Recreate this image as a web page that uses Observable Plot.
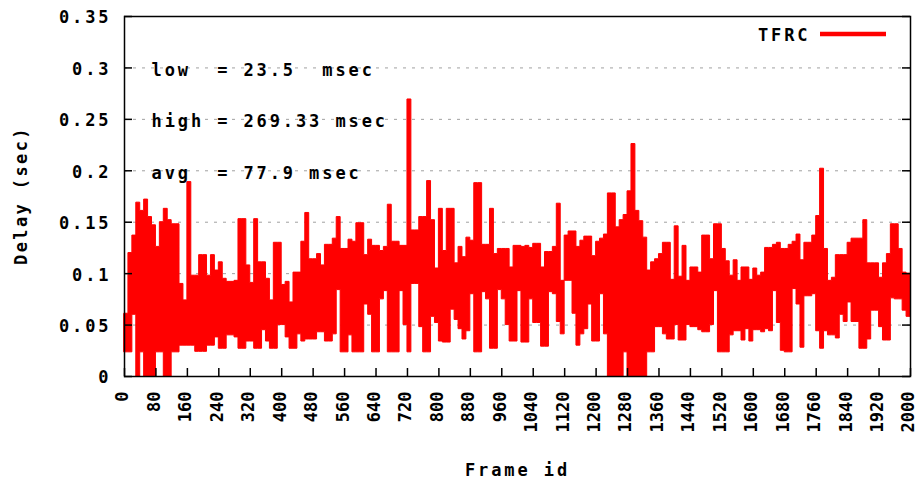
<!DOCTYPE html>
<html>
<head>
<meta charset="utf-8">
<script src="https://cdn.jsdelivr.net/npm/d3@7"></script>
<script src="https://cdn.jsdelivr.net/npm/@observablehq/plot@0.6"></script>
<style>
  html, body { margin: 0; padding: 0; background: #fff; }
  #chart svg text { font-family: "DejaVu Sans Mono", monospace; font-weight: bold; letter-spacing: 2.9px; white-space: pre; }
  #chart svg g[aria-label="x-axis tick label"] text { letter-spacing: 0; }
</style>
</head>
<body>
<div id="chart"></div>
<script>
// Per-frame delay of the TFRC stream, summarised in bins of 10 frames:
// the highest and lowest delay (seconds) reached inside each bin.
const binFrames = 10;
const delayHigh = [
  0.061, 0.12, 0.137, 0.169, 0.161, 0.172, 0.155, 0.147, 0.126, 0.15,
  0.163, 0.152, 0.148, 0.148, 0.09, 0.074, 0.189, 0.098, 0.098, 0.118,
  0.118, 0.098, 0.118, 0.103, 0.111, 0.095, 0.092, 0.092, 0.093, 0.153,
  0.153, 0.108, 0.091, 0.153, 0.111, 0.111, 0.095, 0.074, 0.13, 0.13,
  0.089, 0.092, 0.072, 0.101, 0.101, 0.131, 0.159, 0.114, 0.114, 0.119,
  0.108, 0.128, 0.128, 0.134, 0.155, 0.124, 0.124, 0.133, 0.131, 0.149,
  0.149, 0.118, 0.133, 0.127, 0.127, 0.122, 0.126, 0.167, 0.131, 0.131,
  0.127, 0.127, 0.26933, 0.142, 0.142, 0.155, 0.155, 0.19, 0.152, 0.105,
  0.163, 0.122, 0.163, 0.163, 0.11, 0.126, 0.116, 0.135, 0.132, 0.188,
  0.188, 0.128, 0.128, 0.163, 0.119, 0.124, 0.124, 0.124, 0.106, 0.127,
  0.127, 0.126, 0.127, 0.125, 0.129, 0.129, 0.106, 0.121, 0.121, 0.126,
  0.168, 0.093, 0.137, 0.141, 0.141, 0.126, 0.132, 0.136, 0.136, 0.117,
  0.131, 0.134, 0.138, 0.178, 0.178, 0.145, 0.152, 0.157, 0.18, 0.226,
  0.161, 0.151, 0.135, 0.103, 0.111, 0.114, 0.119, 0.13, 0.13, 0.094,
  0.146, 0.097, 0.127, 0.093, 0.106, 0.106, 0.101, 0.137, 0.137, 0.114,
  0.148, 0.148, 0.124, 0.112, 0.098, 0.113, 0.093, 0.106, 0.106, 0.094,
  0.105, 0.098, 0.101, 0.125, 0.125, 0.128, 0.13, 0.124, 0.124, 0.128,
  0.131, 0.138, 0.113, 0.13, 0.13, 0.137, 0.156, 0.202, 0.124, 0.093,
  0.096, 0.118, 0.118, 0.118, 0.13, 0.134, 0.134, 0.134, 0.152, 0.11,
  0.11, 0.11, 0.096, 0.11, 0.119, 0.148, 0.148, 0.124, 0.101, 0.1
];
const delayLow = [
  0.0235, 0.0235, 0.06, 0, 0.0235, 0, 0, 0, 0.0235, 0.0235,
  0, 0, 0.0235, 0.0235, 0.03, 0.03, 0.03, 0.03, 0.024, 0.024,
  0.024, 0.03, 0.03, 0.038, 0.027, 0.027, 0.04, 0.04, 0.038, 0.027,
  0.027, 0.034, 0.034, 0.027, 0.027, 0.045, 0.034, 0.027, 0.027, 0.05,
  0.05, 0.038, 0.027, 0.027, 0.041, 0.034, 0.036, 0.036, 0.036, 0.043,
  0.043, 0.034, 0.034, 0.041, 0.084, 0.0235, 0.0235, 0.04, 0.0235, 0.0235,
  0.0235, 0.07, 0.06, 0.0235, 0.0235, 0.075, 0.083, 0.0235, 0.0235, 0.0235,
  0.083, 0.05, 0.0235, 0.09, 0.09, 0.048, 0.0235, 0.0235, 0.058, 0.052,
  0.034, 0.033, 0.033, 0.065, 0.055, 0.046, 0.036, 0.044, 0.08, 0.0235,
  0.0235, 0.082, 0.075, 0.027, 0.027, 0.084, 0.075, 0.05, 0.034, 0.034,
  0.083, 0.033, 0.033, 0.075, 0.052, 0.052, 0.029, 0.029, 0.082, 0.08,
  0.053, 0.041, 0.093, 0.093, 0.061, 0.03, 0.041, 0.046, 0.07, 0.034,
  0.034, 0.08, 0.041, 0, 0, 0, 0, 0.0235, 0, 0,
  0, 0, 0, 0.0235, 0.0235, 0.048, 0.048, 0.041, 0.036, 0.036,
  0.05, 0.035, 0.035, 0.05, 0.048, 0.048, 0.045, 0.043, 0.043, 0.05,
  0.083, 0.0235, 0.0235, 0.0235, 0.04, 0.044, 0.044, 0.035, 0.046, 0.034,
  0.045, 0.045, 0.043, 0.046, 0.044, 0.083, 0.052, 0.025, 0.0235, 0.0235,
  0.085, 0.07, 0.028, 0.078, 0.078, 0.08, 0.044, 0.027, 0.044, 0.04,
  0.04, 0.037, 0.06, 0.053, 0.072, 0.053, 0.053, 0.027, 0.027, 0.036,
  0.064, 0.064, 0.048, 0.035, 0.035, 0.076, 0.075, 0.075, 0.064, 0.058
];

const seriesName = "TFRC";
const statLabels = ["low  = 23.5  msec", "high = 269.33 msec", "avg  = 77.9 msec"];
const statRows = [0.3, 0.25, 0.2];
const yTicks = [0, 0.05, 0.1, 0.15, 0.2, 0.25, 0.3, 0.35];
const xTicks = [0, 80, 160, 240, 320, 400, 480, 560, 640, 720, 800, 880, 960, 1040,
                1120, 1200, 1280, 1360, 1440, 1520, 1600, 1680, 1760, 1840, 1920, 2000];
const xLabel = "Frame id";
const yLabel = "Delay (sec)";

// One row per bin; the last bin is repeated at its end so the step closes at frame 2000.
const rows = delayHigh.map((hi, i) => ({frame: i * binFrames, hi, lo: delayLow[i]}));
rows.push({frame: delayHigh.length * binFrames, hi: delayHigh.at(-1), lo: delayLow.at(-1)});
const stats = statLabels.map((label, i) => ({label, y: statRows[i]}));

const red = "#ff0000";
const W = 917, H = 479;
const mTop = 16, mRight = 7, mBottom = 103, mLeft = 124;
const innerW = W - mLeft - mRight;
const innerH = H - mTop - mBottom;
const tick = 8;

const chart = Plot.plot({
  width: W,
  height: H,
  marginTop: mTop,
  marginRight: mRight,
  marginBottom: mBottom,
  marginLeft: mLeft,
  style: {background: "#fff", overflow: "visible", color: "#000"},
  x: {domain: [0, 2000]},
  y: {domain: [0, 0.35]},
  marks: [
    // dotted horizontal grid
    Plot.ruleY(yTicks.slice(1, -1), {stroke: "#a0a0a0", strokeWidth: 1, strokeDasharray: "3,6"}),
    // delay trace
    Plot.areaY(rows, {x: "frame", y1: "lo", y2: "hi", curve: "step-after",
      fill: red, stroke: red, strokeWidth: 1}),
    // summary statistics
    Plot.text(stats, {frameAnchor: "left", dx: 27, dy: 2.5, y: "y",
      text: "label", textAnchor: "start", fontSize: 17, fill: "#000"}),
    // inward tick marks
    Plot.ruleX(xTicks, {insetTop: innerH - tick, stroke: "#000", strokeWidth: 1.5}),
    Plot.ruleY(yTicks, {insetRight: innerW - tick, stroke: "#000", strokeWidth: 1.5}),
    Plot.ruleY(yTicks, {insetLeft: innerW - tick, stroke: "#000", strokeWidth: 1.5}),
    Plot.frame({stroke: "#000", strokeWidth: 1.5}),
    Plot.axisY(yTicks, {tickSize: 0, tickPadding: 13, fontSize: 17, dy: 1.5,
      tickFormat: d => String(d), label: null}),
    Plot.axisX(xTicks, {tickSize: 0, tickPadding: 15, tickRotate: -90, fontSize: 17, dx: -1.5,
      tickFormat: d => String(d), label: null}),
    Plot.text([yLabel], {frameAnchor: "left", dx: -102.5, dy: -1, rotate: -90,
      textAnchor: "middle", lineAnchor: "middle", fontSize: 17, fill: "#000"}),
    Plot.text([xLabel], {frameAnchor: "bottom", dy: 94, textAnchor: "middle",
      lineAnchor: "middle", fontSize: 17, fill: "#000"}),
    // legend label
    Plot.text([seriesName], {frameAnchor: "top-right", dx: -100, dy: 19, textAnchor: "end",
      lineAnchor: "middle", fontSize: 17, fill: "#000"})
  ]
});

// keep the column alignment of the statistics lines
d3.select(chart).selectAll("text").attr("xml:space", "preserve");
// the vertical axis title is set a little tighter
d3.select(chart).selectAll("text")
  .filter(function () { return this.textContent === yLabel; })
  .style("letter-spacing", "2.4px");

// legend line sample next to the series name
d3.select(chart).append("line")
  .attr("x1", W - mRight - 90).attr("x2", W - mRight - 24)
  .attr("y1", mTop + 18).attr("y2", mTop + 18)
  .attr("stroke", red).attr("stroke-width", 4.7);

document.getElementById("chart").append(chart);
</script>
</body>
</html>
